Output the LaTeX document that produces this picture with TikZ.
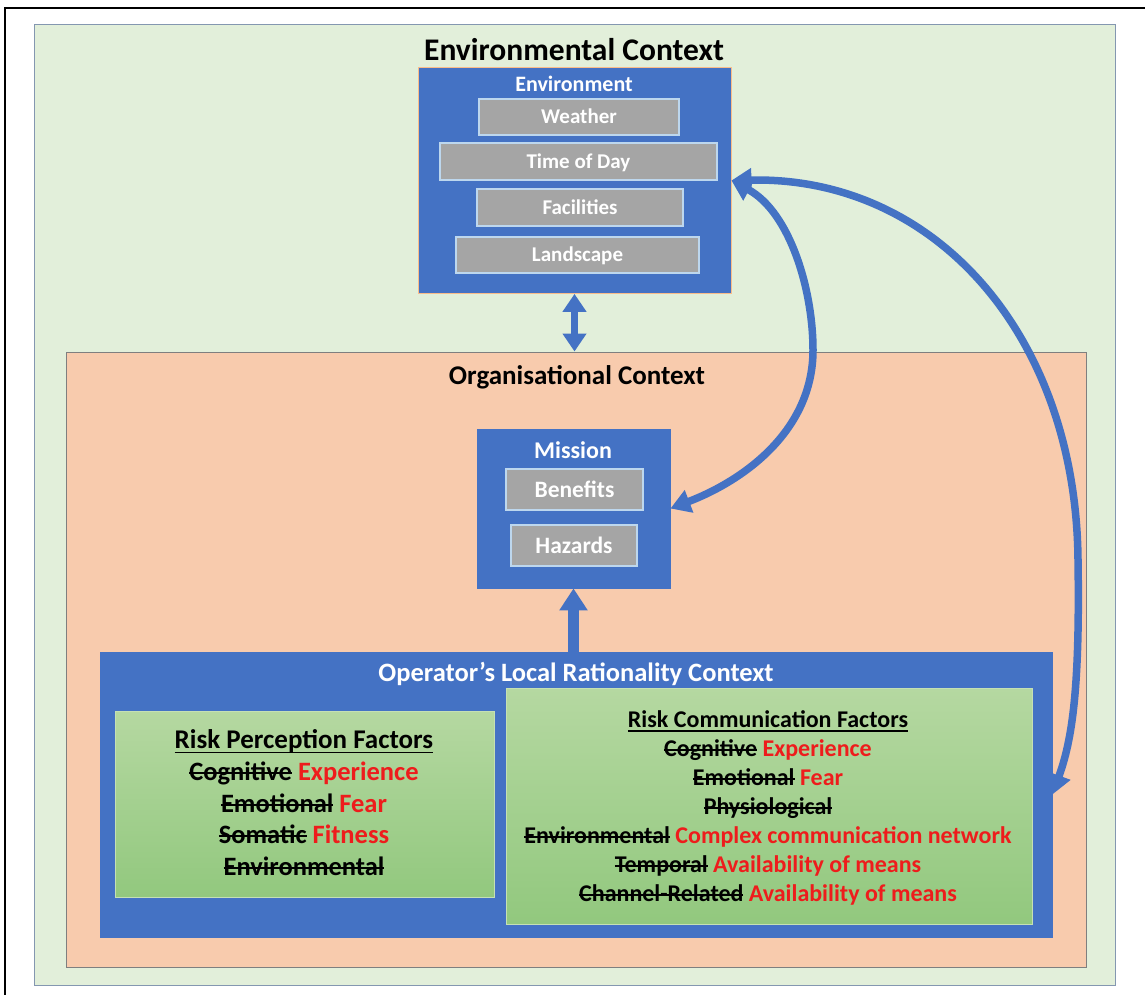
\documentclass[tikz,border=0pt]{standalone}
\usepackage{fontspec}
\setmainfont{Carlito}
\usetikzlibrary{arrows.meta}
\definecolor{bluebox}{HTML}{4472C4}
\definecolor{envbg}{HTML}{E2EFDA}
\definecolor{envline}{HTML}{8497B0}
\definecolor{orgbg}{HTML}{F8CBAD}
\definecolor{orgline}{HTML}{7F7F7F}
\definecolor{itembg}{HTML}{A5A5A5}
\definecolor{itemline}{HTML}{BDD7EE}
\definecolor{factortop}{HTML}{B5D8A1}
\definecolor{factorbot}{HTML}{92C87E}
\definecolor{factorline}{HTML}{C5E0B4}
\definecolor{newterm}{HTML}{EE1C1C}
\newlength{\markw}
% struck-out term
\newcommand{\old}[1]{\settowidth{\markw}{#1}\rlap{\rule[0.24em]{\markw}{1.8pt}}#1}
% underlined heading
\newcommand{\headline}[1]{\settowidth{\markw}{#1}\rlap{\rule[-0.17em]{\markw}{1.5pt}}#1}
\newcommand{\new}[1]{\textcolor{newterm}{#1}}
\begin{document}
\begin{tikzpicture}[x=1pt,y=-1pt,
  % text boxes are as tall as the capitals, so centres sit mid-cap
  txt/.style n args={2}{inner sep=0, font=\bfseries\fontsize{#1}{#1}\selectfont,
    text height=#2, text depth=0pt},
  panel/.style={draw=bluebox, fill=bluebox, line width=0.8pt, inner sep=0, minimum width=#1},
  item/.style={draw=itemline, fill=itembg, line width=1.8pt, text=white},
  factors/.style={draw=factorline, line width=1pt, top color=factortop, bottom color=factorbot, inner sep=0},
  link/.style={draw=bluebox, line width=7.5pt, {Triangle[length=20pt,width=23pt]}-{Triangle[length=20pt,width=23pt]}},
  uplink/.style={draw=bluebox, line width=11pt, -{Triangle[length=22pt,width=27pt]}}
]
\useasboundingbox (0,0) rectangle (1145,994);
\clip (0,0) rectangle (1145,994);
\fill[white] (0,0) rectangle (1145,994);
% page frame
\draw[black, line width=2pt] (5,8) rectangle (1170,1020);

% environmental context
\node[draw=envline, fill=envbg, line width=1pt, minimum width=1081pt, minimum height=961pt, inner sep=0] (envctx) at (574.5,504.5) {};
\node[txt={31.5}{20.3pt}] (envtitle) at (574,50) {Environmental Context};

% organisational context
\node[draw=orgline, fill=orgbg, line width=1pt, minimum width=1020pt, minimum height=615pt, inner sep=0] (org) at (576,659.5) {};
\node[txt={27}{17.4pt}] (orgtitle) at (577,376) {Organisational Context};

% environment block
\node[panel=313pt, minimum height=226pt, draw=orgbg!80!orange] (env) at (574.5,180.5) {};
\node[txt={22}{14.2pt}, text=white] (envlabel) at (574,84) {Environment};
\node[txt={21}{13.5pt}, item, minimum width=200pt, minimum height=36pt] (weather) at (579,117) {Weather};
\node[txt={21}{13.5pt}, item, minimum width=277pt, minimum height=37pt] (time) at (578.5,161.5) {Time of Day};
\node[txt={21}{13.5pt}, item, minimum width=206pt, minimum height=37pt] (facilities) at (580,207.5) {Facilities};
\node[txt={21}{13.5pt}, item, minimum width=243pt, minimum height=36pt] (landscape) at (577.5,255) {Landscape};

% mission block
\node[panel=193pt, minimum height=159pt] (mission) at (573.5,508.5) {};
\node[txt={24}{15.5pt}, text=white] (missionlabel) at (573,451) {Mission};
\node[txt={23.5}{15.1pt}, item, minimum width=137pt, minimum height=41pt] (benefits) at (574.5,489.5) {Benefits};
\node[txt={23.5}{15.1pt}, item, minimum width=126pt, minimum height=41pt] (hazards) at (574,545.5) {Hazards};

% operator block
\node[panel=952pt, minimum height=285pt] (op) at (576,794.5) {};
\node[txt={26.5}{17.1pt}, text=white] (optitle) at (576,673) {Operator’s Local Rationality Context};

\node[factors, minimum width=379pt, minimum height=186pt] (perc) at (304.5,804) {};
\node[txt={27}{17.4pt}] (perctitle) at (304,740) {\headline{Risk Perception Factors}};
\node[txt={26.5}{17.1pt}] (p1) at (304,772) {\old{Cognitive} \new{Experience}};
\node[txt={26.5}{17.1pt}] (p2) at (304,803.5) {\old{Emotional} \new{Fear}};
\node[txt={26.5}{17.1pt}] (p3) at (304,835) {\old{Somatic} \new{Fitness}};
\node[txt={26.5}{17.1pt}] (p4) at (304,867) {\old{Environmental}};

\node[factors, minimum width=526pt, minimum height=236pt] (comm) at (769,806) {};
\node[txt={24}{15.5pt}] (commtitle) at (768,720) {\headline{Risk Communication Factors}};
\node[txt={24}{15.5pt}] (c1) at (768,748.5) {\old{Cognitive} \new{Experience}};
\node[txt={24}{15.5pt}] (c2) at (768,777.5) {\old{Emotional} \new{Fear}};
\node[txt={24}{15.5pt}] (c3) at (768,806.5) {\old{Physiological}};
\node[txt={24}{15.5pt}] (c4) at (768,835.5) {\old{Environmental} \new{Complex communication network}};
\node[txt={24}{15.5pt}] (c5) at (768,864.5) {\old{Temporal} \new{Availability of means}};
\node[txt={24}{15.5pt}] (c6) at (768,893.5) {\old{Channel-Related} \new{Availability of means}};

% connectors
\draw[link, {Triangle[length=18pt,width=23pt]}-{Triangle[length=18pt,width=23pt]}] (env.south) -- (env.south |- org.north);
\draw[uplink] (mission.south |- op.north) -- (mission.south);
\draw[link] (env.east) .. controls (790,212) and (813,290) .. (813,350)
  .. controls (813,430) and (745,480) .. (mission.east);
\draw[link] (env.east) .. controls (935,176) and (1076,335) .. (1078,560)
  .. controls (1080,690) and (1072,740) .. (op.east);
\end{tikzpicture}
\end{document}
